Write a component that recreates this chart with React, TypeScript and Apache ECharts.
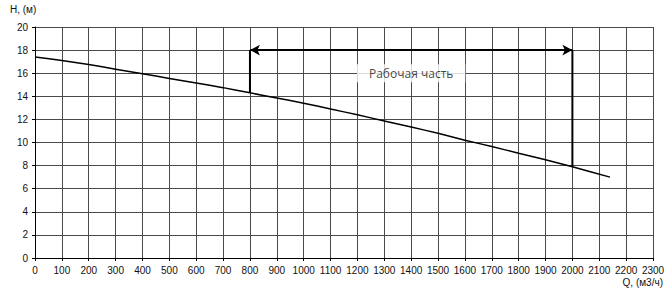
import React, { useEffect, useRef } from "react";
import * as echarts from "echarts";

const flowQ = [0, 100, 200, 300, 400, 500, 600, 700, 800, 900, 1000, 1100, 1200, 1300, 1400, 1500, 1600, 1700, 1800, 1900, 2000, 2140];
const headH = [17.4, 17.1, 16.75, 16.35, 15.95, 15.55, 15.15, 14.75, 14.3, 13.85, 13.4, 12.9, 12.4, 11.86, 11.34, 10.8, 10.2, 9.65, 9.07, 8.5, 7.9, 7.0];

const workStart = 800;
const workEnd = 2000;
const workStartH = 14.3;
const workEndH = 7.9;
const bracketH = 18;
const labelPoint = [1400, 16];
const labelText = "Рабочая часть";
const xName = "Q, (м3/ч)";
const yName = "H, (м)";

export default function App() {
  const ref = useRef<HTMLDivElement>(null);
  useEffect(() => {
    if (!ref.current) return;
    const chart = echarts.init(ref.current, null, { renderer: "svg" });
    const font = "'Liberation Sans', Arial, sans-serif";
    chart.setOption({
      animation: false,
      backgroundColor: "#fff",
      grid: { left: 35, right: 16, top: 27, bottom: 31 },
      xAxis: {
        type: "value",
        min: 0,
        max: 2300,
        interval: 100,
        axisLine: { show: true, lineStyle: { color: "#000", width: 1 } },
        axisTick: { show: true, length: 3, lineStyle: { color: "#000" } },
        axisLabel: { color: "#111", fontSize: 10, fontFamily: font, margin: 7, formatter: (v: number) => String(v) },
        splitLine: { show: true, lineStyle: { color: "#4a4a4a", width: 1 } },
      },
      yAxis: {
        type: "value",
        min: 0,
        max: 20,
        interval: 2,
        axisLine: { show: true, lineStyle: { color: "#000", width: 1 } },
        axisTick: { show: true, length: 3, lineStyle: { color: "#000" } },
        axisLabel: { color: "#111", fontSize: 10, fontFamily: font, margin: 7 },
        splitLine: { show: true, lineStyle: { color: "#4a4a4a", width: 1 } },
      },
      graphic: [
        { type: "text", left: 10, top: 4, style: { text: yName, fill: "#111", font: `10px ${font}` } },
        { type: "text", right: 6, bottom: 2, style: { text: xName, fill: "#111", font: `10px ${font}` } },
      ],
      series: [
        {
          type: "line",
          data: flowQ.map((q, i) => [q, headH[i]]),
          smooth: 0.2,
          symbol: "none",
          lineStyle: { color: "#000", width: 1.5 },
          z: 5,
        },
        {
          type: "line",
          data: [[workStart, workStartH], [workStart, bracketH]],
          symbol: "none",
          lineStyle: { color: "#000", width: 2 },
          z: 6,
        },
        {
          type: "line",
          data: [[workEnd, workEndH], [workEnd, bracketH]],
          symbol: "none",
          lineStyle: { color: "#000", width: 2 },
          z: 6,
          markLine: {
            silent: true,
            symbol: ["arrow", "arrow"],
            symbolSize: [8, 10],
            lineStyle: { color: "#000", width: 2, type: "solid" },
            label: { show: false },
            data: [[{ coord: [workStart, bracketH] }, { coord: [workEnd, bracketH] }]],
          },
        },
        {
          type: "scatter",
          data: [labelPoint],
          symbolSize: 0,
          z: 7,
          label: {
            show: true,
            position: "inside",
            formatter: labelText,
            color: "#111",
            fontSize: 12,
            fontFamily: "'Open Sans', 'Noto Sans', sans-serif",
            backgroundColor: "#fff",
            padding: [3, 12, 3, 12],
          },
        },
      ],
    });
    return () => chart.dispose();
  }, []);
  return <div ref={ref} style={{ width: 669, height: 289, position: "absolute", left: 0, top: 0 }} />;
}
